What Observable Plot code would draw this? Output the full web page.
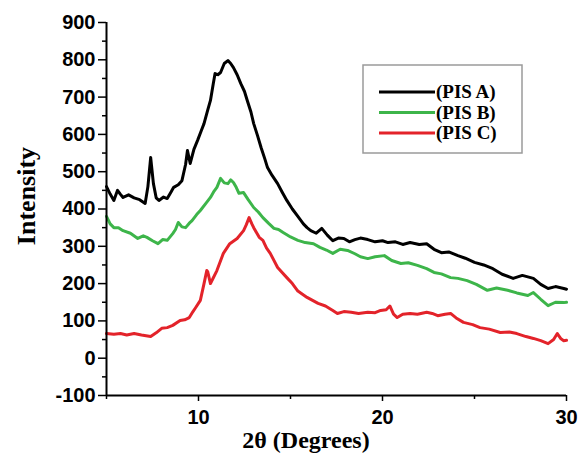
<!DOCTYPE html>
<html>
<head>
<meta charset="utf-8">
<script src="https://cdn.jsdelivr.net/npm/d3@7"></script>
<script src="https://cdn.jsdelivr.net/npm/@observablehq/plot@0.6"></script>
<style>
  html, body { margin: 0; padding: 0; background: #fff; }
  #chart { position: relative; width: 578px; height: 456px; }
</style>
</head>
<body>
<div id="chart"></div>
<script>
// ---- Data ----
const seriesNames = ["(PIS A)", "(PIS B)", "(PIS C)"];
const seriesColors = ["#000000", "#3db54a", "#e3232a"];

const xA = [5.0,5.2,5.4,5.6,5.75,5.9,6.2,6.5,6.8,7.1,7.25,7.4,7.55,7.7,7.85,8.1,8.3,8.5,8.65,8.9,9.1,9.3,9.4,9.55,9.75,9.95,10.15,10.3,10.5,10.65,10.8,10.9,11.05,11.2,11.4,11.6,11.75,11.9,12.1,12.3,12.5,12.65,12.85,13.0,13.2,13.4,13.6,13.75,14.0,14.3,14.55,14.8,15.1,15.4,15.7,15.9,16.1,16.4,16.7,17.0,17.3,17.6,17.9,18.2,18.5,18.8,19.2,19.6,20.0,20.3,20.7,21.1,21.5,22.0,22.4,22.8,23.2,23.6,24.1,24.5,25.0,25.5,26.0,26.5,27.1,27.6,28.2,28.6,29.0,29.4,29.85,30.0];
const yA = [460,440,423,450,440,431,438,430,425,415,460,538,468,430,423,432,428,445,458,465,476,520,557,522,560,584,610,629,665,691,735,763,760,766,790,798,790,779,760,736,715,691,660,629,598,565,535,511,490,468,445,423,400,380,360,350,342,335,348,330,315,322,321,312,318,322,318,312,315,310,312,305,310,305,307,292,283,285,275,268,257,250,240,225,214,222,214,198,187,192,187,185];

const xB = [5.0,5.2,5.4,5.65,5.9,6.3,6.7,7.0,7.2,7.5,7.8,8.05,8.3,8.6,8.75,8.9,9.1,9.3,9.5,9.65,9.9,10.1,10.4,10.65,10.85,11.0,11.2,11.4,11.6,11.75,11.9,12.05,12.2,12.45,12.7,13.0,13.25,13.5,13.8,14.1,14.35,14.6,15.0,15.4,15.8,16.25,16.6,16.95,17.3,17.7,18.1,18.5,18.8,19.2,19.6,20.1,20.5,21.0,21.4,21.9,22.4,22.8,23.2,23.7,24.1,24.6,25.1,25.7,26.2,26.8,27.3,27.9,28.2,28.6,29.0,29.4,29.85,30.0];
const yB = [380,360,350,350,342,335,321,328,324,315,307,318,316,334,345,364,352,350,362,369,385,396,415,431,448,458,482,470,468,478,471,458,442,444,425,404,392,377,362,348,345,337,325,316,310,307,297,290,281,292,289,280,272,267,272,275,262,254,256,249,240,230,226,216,214,208,198,182,188,182,175,168,176,158,141,150,149,150];

const xC = [5.0,5.4,5.76,6.1,6.5,6.9,7.4,7.7,8.0,8.3,8.6,9.0,9.25,9.5,9.7,9.85,10.1,10.3,10.45,10.5,10.65,10.8,11.0,11.35,11.7,12.1,12.45,12.6,12.75,12.9,13.0,13.3,13.5,13.7,13.9,14.3,14.8,15.1,15.4,15.9,16.5,16.9,17.3,17.55,17.9,18.3,18.7,19.2,19.6,19.9,20.2,20.4,20.6,20.8,21.1,21.5,21.9,22.4,22.7,23.0,23.4,23.7,24.0,24.4,24.9,25.3,25.8,26.4,26.9,27.3,27.8,28.2,28.6,29.0,29.3,29.5,29.7,29.85,30.0];
const yC = [66,64,66,62,66,62,58,68,80,82,88,101,103,109,125,136,155,200,235,232,200,215,235,281,307,321,342,358,377,360,350,324,316,295,281,243,216,200,180,163,147,140,128,120,125,123,120,123,122,128,130,140,118,109,118,120,118,123,120,114,118,120,108,96,90,82,78,69,70,66,58,53,47,39,50,66,52,47,48];

const xTicks = [10, 20, 30];
const xMinor = [5, 15, 25];
const yTicks = [-100, 0, 100, 200, 300, 400, 500, 600, 700, 800, 900];
const yMinor = [-50, 50, 150, 250, 350, 450, 550, 650, 750, 850];
const xDomain = [5, 30];
const yDomain = [-100, 900];

const xTitle = "2θ (Degrees)";
const yTitle = "Intensity";

// ---- Build tables ----
const toRows = (xs, ys) => xs.map((x, i) => ({x, y: ys[i]}));
const dataA = toRows(xA, yA);
const dataB = toRows(xB, yB);
const dataC = toRows(xC, yC);

const tickFont = {fontSize: 20, fontWeight: "bold", fontFamily: "Liberation Sans, Arial, sans-serif"};
const fmt = d => String(d);

const plot = Plot.plot({
  width: 578,
  height: 456,
  marginLeft: 106,
  marginRight: 12,
  marginTop: 22,
  marginBottom: 61,
  x: {domain: xDomain},
  y: {domain: yDomain},
  style: {background: "#fff", color: "#000"},
  marks: [
    Plot.line(dataA, {x: "x", y: "y", stroke: seriesColors[0], strokeWidth: 3, strokeLinejoin: "round"}),
    Plot.line(dataB, {x: "x", y: "y", stroke: seriesColors[1], strokeWidth: 3, strokeLinejoin: "round"}),
    Plot.line(dataC, {x: "x", y: "y", stroke: seriesColors[2], strokeWidth: 3, strokeLinejoin: "round"}),
    Plot.axisY({ticks: yMinor, tickSize: 4, text: null, label: null, strokeWidth: 1.5}),
    Plot.axisY({ticks: yTicks, tickSize: 8, tickPadding: 3, tickFormat: fmt, label: null, strokeWidth: 1.5, ...tickFont}),
    Plot.axisX({ticks: xMinor, tickSize: 4, text: null, label: null, strokeWidth: 1.5}),
    Plot.axisX({ticks: xTicks, tickSize: 6, tickPadding: 8, tickFormat: fmt, label: null, strokeWidth: 1.5, ...tickFont}),
    Plot.ruleX([xDomain[0]], {strokeWidth: 2}),
    Plot.ruleY([yDomain[0]], {strokeWidth: 2})
  ]
});

document.getElementById("chart").appendChild(plot);

// ---- Titles and legend ----
const svg = d3.select(plot);
const serif = "Liberation Serif, Times New Roman, serif";

svg.append("text")
  .attr("x", 306).attr("y", 448)
  .attr("text-anchor", "middle")
  .attr("font-family", serif).attr("font-weight", "bold").attr("font-size", 24)
  .attr("fill", "#000")
  .text(xTitle);

svg.append("text")
  .attr("transform", "translate(35,196) rotate(-90)")
  .attr("text-anchor", "middle")
  .attr("font-family", serif).attr("font-weight", "bold").attr("font-size", 26)
  .attr("fill", "#000")
  .text(yTitle);

const lg = svg.append("g");
lg.append("rect")
  .attr("x", 363).attr("y", 65).attr("width", 159).attr("height", 88)
  .attr("fill", "#fff").attr("stroke", "#9a9a9a").attr("stroke-width", 1.5);
seriesNames.forEach((name, i) => {
  const yy = 92 + i * 20.5;
  lg.append("line")
    .attr("x1", 379).attr("x2", 435).attr("y1", yy).attr("y2", yy)
    .attr("stroke", seriesColors[i]).attr("stroke-width", 3);
  lg.append("text")
    .attr("x", 436).attr("y", yy + 6)
    .attr("text-anchor", "start")
    .attr("font-family", serif).attr("font-weight", "bold").attr("font-size", 19)
    .attr("fill", "#000")
    .text(name);
});
</script>
</body>
</html>
